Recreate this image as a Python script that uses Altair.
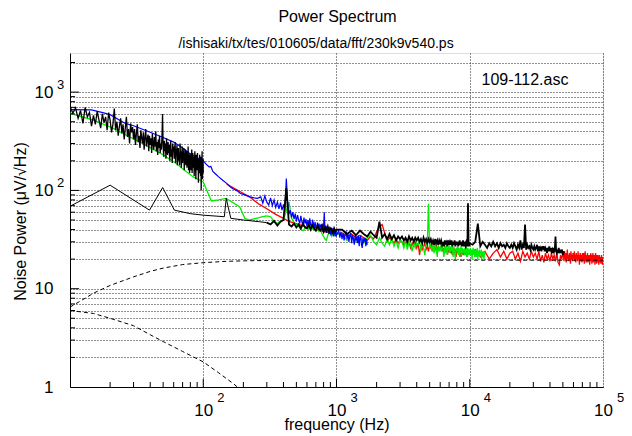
import altair as alt
import pandas as pd

FONT = "Liberation Sans"
W, H = 533, 334

X_DOMAIN = [10, 100000]
Y_DOMAIN = [1, 2500]

TITLE = "Power Spectrum"
SUBTITLE = "/ishisaki/tx/tes/010605/data/fft/230k9v540.ps"
FILE_LABEL = "109-112.asc"
X_TITLE = "frequency (Hz)"
Y_TITLE = "Noise Power (μV/√Hz)"

X_MAJOR = [100, 1000, 10000, 100000]
X_SUP = ["2", "3", "4", "5"]
X_MINOR = [20, 30, 40, 50, 60, 70, 80, 90, 200, 300, 400, 500, 600, 700, 800, 900,
           2000, 3000, 4000, 5000, 6000, 7000, 8000, 9000,
           20000, 30000, 40000, 50000, 60000, 70000, 80000, 90000]
Y_GRID = [2, 3, 4, 5, 6, 7, 8, 9, 10, 20, 30, 40, 50, 60, 70, 80, 90,
          100, 200, 300, 400, 500, 600, 700, 800, 900, 1000, 2000]
Y_MAJOR = [10, 100, 1000]
Y_SUPV = [100, 1000]
Y_SUP = ["2", "3"]
Y_MINOR = [v for v in Y_GRID if v not in Y_MAJOR]

# ---- black noisy spectrum 10-100 Hz (0.5 Hz bins) ----
blk_lo_f0, blk_lo_df = 10.0, 0.5
blk_lo_v = [
    720, 610, 690, 540, 650, 480, 700, 560, 620, 450,
    580, 470, 640, 520, 430, 600, 490, 560, 410, 620,
    520, 390, 470, 680, 410, 500, 360, 450, 540, 380,
    470, 330, 430, 560, 350, 420, 300, 480, 390, 440,
    330, 420, 290, 380, 470, 310, 360, 270, 410, 340,
    300, 390, 260, 350, 420, 280, 330, 370, 250, 360,
    290, 340, 240, 380, 300, 260, 350, 280, 400, 250,
    310, 230, 330, 270, 360, 240, 300, 260, 350, 600,
    280, 220, 320, 250, 300, 210, 340, 260, 230, 310,
    240, 290, 200, 270, 320, 220, 260, 190, 300, 250,
    280, 210, 250, 310, 190, 260, 230, 290, 180, 240,
    270, 200, 240, 180, 300, 220, 250, 170, 230, 280,
    190, 240, 210, 270, 160, 230, 200, 260, 180, 220,
    250, 170, 220, 190, 280, 160, 230, 200, 150, 240,
    180, 230, 160, 210, 260, 150, 200, 240, 170, 190,
    220, 140, 200, 250, 170, 190, 130, 230, 180, 210,
    160, 240, 170, 200, 120, 210, 180, 150, 230, 170,
    190, 140, 220, 100, 200, 160, 250, 130, 180, 210,
    150,
]

# ---- black smoothed spectrum (low part) ----
blk_thin_f = [10, 20, 39.5, 49.6, 60.7, 80, 100, 144, 148.7, 161, 200, 264, 300]
blk_thin_v = [69, 113, 63, 107, 63, 58, 56, 54, 83, 52, 50, 48, 47]

# ---- black high-frequency spectrum ----
blk2_a_f0, blk2_a_df = 300, 20
blk2_a_v = [47, 45, 49, 44, 48, 50, 105, 45, 43, 46, 42, 45, 41, 46, 42, 41, 45, 40,
            44, 41, 39, 44, 40, 39, 43, 38, 42, 39, 43, 38, 41, 40, 37, 41, 38, 40]
blk2_b_f0, blk2_b_df = 1100, 100
blk2_b_v = [
    40, 36, 39, 35, 39, 36, 34, 38, 35, 33,
    48, 33, 36, 32, 36, 32, 35, 31, 34, 32,
    34, 31, 33, 30, 34, 31, 33, 30, 33, 31,
    33, 30, 32, 29, 33, 30, 32, 29, 32, 30,
    32, 29, 31, 28, 32, 29, 31, 28, 31, 29,
    31, 28, 30, 27, 31, 29, 30, 27, 31, 28,
    30, 28, 31, 27, 30, 28, 31, 27, 30, 28,
    30, 27, 29, 31, 28, 30, 27, 29, 31, 27,
    30, 28, 27, 30, 31, 27, 74, 30, 27, 29,
]
blk2_c_f0, blk2_c_df = 10500, 500
blk2_c_v = [
    28, 30, 46, 27, 30, 28, 26, 29, 27, 30,
    27, 29, 26, 29, 27, 28, 26, 29, 27, 26,
    28, 26, 29, 27, 25, 28, 26, 31, 25, 28,
    26, 45, 25, 28, 26, 27, 25, 28, 26, 25,
    27, 25, 26, 28, 24, 27, 25, 26, 24, 27,
    25, 27, 24, 26, 25, 23, 26, 24, 27, 24,
    26, 24, 25, 23, 26, 24, 25, 34, 24, 23,
    25, 23, 26, 24, 23, 25, 23, 25, 24, 22,
    24, 23,
]

# ---- blue spectrum ----
blue_lo_f = [10, 14.5, 17.6, 20, 26, 30, 40, 50, 60, 70, 80, 90, 100, 105, 111, 114,
             118, 125, 130, 140, 150, 160, 167, 180, 190, 200, 210, 225, 240, 255]
blue_lo_v = [665, 660, 618, 590, 480, 455, 390, 345, 310, 270, 235, 215, 200, 185, 173, 176,
             156, 145, 138, 127, 118, 108, 104, 99, 93, 91, 89, 86, 84, 83]
blue_a_f0, blue_a_df = 270, 10
blue_a_v = [
    86, 74, 88, 76, 71, 84, 70, 80, 67, 76,
    65, 75, 63, 72, 61, 132, 76, 57, 63, 53,
    60, 51, 58, 48, 56, 50, 46, 55, 48, 44,
    53, 46, 51, 43, 50, 43, 52, 45, 42, 49,
    47, 41, 48, 42, 40, 47, 41, 46, 39, 45,
    43, 46, 39, 44, 60, 38, 44, 37, 43, 38,
    42, 36, 43, 37, 35, 42, 36, 41, 34, 40,
    39, 34, 40, 35,
]
blue_b_f0, blue_b_df = 1020, 20
blue_b_v = [
    37, 39, 33, 38, 32, 37, 31, 36, 38, 32,
    36, 30, 35, 37, 29, 35, 32, 28, 35, 31,
    34, 29, 35, 27, 33, 34, 28, 26, 33, 30,
    31, 33, 27, 32, 28,
]

# ---- red spectrum ----
red_lo_f = [150, 180, 222, 264, 300, 350, 400, 444, 500, 600, 700, 800, 900, 1000]
red_lo_v = [116, 101, 86, 72, 65, 57, 52, 48, 46, 42, 40, 38, 37, 36]
red_a_f0, red_a_df = 1100, 100
red_a_v = [
    37, 34, 36, 33, 35, 33, 31, 34, 32, 38,
    43, 45, 37, 30, 33, 31, 29, 32, 29, 31,
    30, 28, 31, 27, 30, 26, 29, 27, 30, 26,
    29, 22, 28, 25, 27, 29, 25, 27, 24, 28,
    26, 28, 24, 27, 25, 28, 23, 27, 25, 26,
    27, 24, 26, 23, 27, 25, 26, 22, 26, 24,
    25, 23, 26, 22, 25, 26, 23, 25, 21, 25,
    24, 26, 22, 25, 23, 21, 25, 23, 24, 22,
    25, 22, 24, 26, 21, 24, 25, 22, 24, 23,
]
red_b_f0, red_b_df = 11000, 1000
red_b_v = [
    25, 21, 24, 20, 23, 25, 21, 24, 20, 23,
    24, 20, 23, 19, 24, 21, 23, 20, 24, 21,
    23, 20, 24, 19, 22, 18.5, 23, 20, 22, 19,
    23, 20, 22, 19, 23, 18.5, 17.5, 22, 20, 23,
]
red_c_f0, red_c_df = 50500, 500
red_c_v = [
    22, 19, 24, 20, 23, 18.5, 21, 25, 20, 22,
    19, 23, 21, 18, 24, 20, 22, 19, 23, 20,
    21, 24, 19, 22, 18.5, 23, 20, 22, 19, 24,
    20, 22, 17.5, 21, 23, 19, 22, 20, 18.5, 23,
    21, 19, 23, 20, 18, 22, 24, 19, 21, 18.5,
    22, 20, 23, 18.5, 21, 19, 22, 20, 17.5, 22,
    20, 23, 19, 21, 18, 22, 20, 23, 18.5, 21,
    19, 22, 20, 17.5, 21, 23, 19, 20, 18, 22,
    20, 18.5, 22, 19, 21, 17.5, 20, 22, 18.5, 21,
    19, 21, 18, 20, 22, 18.5, 20, 17.5, 21, 19.5,
]

# ---- green spectrum ----
green_lo_f = [10, 15, 20.4, 35, 50, 62.6, 83.6, 100, 115, 130, 149, 188, 205, 222, 250, 280]
green_lo_v = [610, 520, 438, 300, 230, 188, 138, 122, 78, 80, 83, 68, 52, 50, 52, 54]
green_a_f0, green_a_df = 300, 20
green_a_v = [55, 54, 48, 46, 49, 50, 62, 76, 52, 47, 45, 43, 40, 39, 41, 42, 40, 43,
             41, 42, 42, 40, 38, 39, 36, 34, 32, 31, 35, 37, 36, 34, 37, 35, 36, 36]
green_b_f0, green_b_df = 1100, 100
green_b_v = [
    36, 31, 35, 30, 34, 29, 33, 35, 30, 28,
    33, 29, 27, 32, 28, 33, 27, 31, 26, 31,
    30, 26, 31, 25, 30, 28, 24, 30, 26, 29,
    28, 31, 24, 29, 26, 22, 29, 27, 73, 26,
    29, 24, 28, 23, 29, 26, 21, 28, 24, 27,
    24, 28, 25, 21, 27, 23, 28, 22, 26, 27,
    23, 27, 24, 28, 21, 26, 23, 20, 26, 24,
    27, 22, 26, 21, 25, 27, 22, 26, 23, 25,
    22, 26, 23, 27, 21, 25, 26, 22, 25, 23,
    26, 22, 25, 20, 24, 26, 22, 25, 21, 24,
    25, 21, 24, 26, 20, 24, 22, 25, 21, 24,
    23, 25, 20, 24, 21, 24, 22, 20, 24, 22,
]

# ---- dashed model curves ----
dash_up_f = [10, 12, 15, 20, 30, 40, 50, 70, 100, 150, 200, 300, 1000, 100000]
dash_up_v = [6.5, 7.5, 9.0, 10.8, 13.2, 15.0, 16.2, 17.6, 18.4, 19.0, 19.2, 19.4, 19.5, 19.5]
dash_dn_f = [10, 15, 20, 30, 40, 50, 70, 100, 130, 170, 180]
dash_dn_v = [6.0, 5.6, 5.0, 4.2, 3.4, 2.9, 2.3, 1.8, 1.4, 1.07, 1.0]


def bins(f0, df, vals):
    return [f0 + df * i for i in range(len(vals))]


def frame(f, v):
    return pd.DataFrame({"f": f, "v": v})


Y_LABEL_EXPR = ("datum.value == 1000 || datum.value == 100 || datum.value == 10 ? '10' : "
                "(datum.value == 1 ? '1' : '')")

x_enc = alt.X(
    "f:Q",
    scale=alt.Scale(type="log", domain=X_DOMAIN, nice=False),
    axis=alt.Axis(
        values=X_MAJOR, labelExpr="'10'", grid=True, gridDash=[1, 2], gridColor="#222",
        gridWidth=1, tickSize=0, labelFontSize=17, labelPadding=15, labelFlush=False,
        labelOverlap=False, labelColor="black", labelFont=FONT,
        domainColor="black", title=X_TITLE, titleFontSize=16, titleFontWeight="normal",
        titleFont=FONT, titleColor="black", titleBaseline="alphabetic", titleY=42, titleX=W / 2,
    ),
)
y_enc = alt.Y(
    "v:Q",
    scale=alt.Scale(type="log", domain=Y_DOMAIN, nice=False),
    axis=alt.Axis(
        values=Y_GRID + [1], labelExpr=Y_LABEL_EXPR, grid=True, gridDash=[1, 2],
        gridColor="#222", gridWidth=1, tickSize=0, labelFontSize=17, labelPadding=17,
        labelOverlap=False, labelFlush=False, labelColor="black", labelFont=FONT,
        domainColor="black", title=Y_TITLE, titleFontSize=16, titleFontWeight="normal",
        titleFont=FONT, titleColor="black", titleBaseline="alphabetic", titleAngle=270,
        titleX=-45, titleY=168, titleAlign="center",
    ),
)


def line(df, color, width=1.0, dash=None):
    kw = dict(color=color, strokeWidth=width, clip=True)
    if dash:
        kw["strokeDash"] = dash
    return alt.Chart(df).mark_line(**kw).encode(x=x_enc, y=y_enc)


red_df = frame(red_lo_f + bins(red_a_f0, red_a_df, red_a_v) + bins(red_b_f0, red_b_df, red_b_v)
               + bins(red_c_f0, red_c_df, red_c_v),
               red_lo_v + red_a_v + red_b_v + red_c_v)
green_df = frame(green_lo_f + bins(green_a_f0, green_a_df, green_a_v) + bins(green_b_f0, green_b_df, green_b_v),
                 green_lo_v + green_a_v + green_b_v)
blue_df = frame(blue_lo_f + bins(blue_a_f0, blue_a_df, blue_a_v) + bins(blue_b_f0, blue_b_df, blue_b_v),
                blue_lo_v + blue_a_v + blue_b_v)
blk_hi_df = frame(bins(blk2_a_f0, blk2_a_df, blk2_a_v) + bins(blk2_b_f0, blk2_b_df, blk2_b_v)
                  + bins(blk2_c_f0, blk2_c_df, blk2_c_v),
                  blk2_a_v + blk2_b_v + blk2_c_v)
blk_thin_df = frame(blk_thin_f, blk_thin_v)
blk_lo_df = frame(bins(blk_lo_f0, blk_lo_df, blk_lo_v), blk_lo_v)

layers = [
    line(red_df, "#ff0000", 1.3),
    line(green_df, "#00ee00", 1.3),
    line(blue_df, "#0000ff", 1.2),
    line(blk_hi_df, "#000000", 1.8),
    line(blk_thin_df, "#000000", 1.0),
    line(blk_lo_df, "#000000", 1.3),
    line(frame(dash_up_f, dash_up_v), "#000000", 1.0, [4, 3]),
    line(frame(dash_dn_f, dash_dn_v), "#000000", 1.0, [4, 3]),
]

# inward tick marks
xt_major = pd.DataFrame({"f": X_MAJOR[:-1]})
xt_minor = pd.DataFrame({"f": X_MINOR})
yt_major = pd.DataFrame({"v": Y_MAJOR})
yt_minor = pd.DataFrame({"v": Y_MINOR})
layers += [
    alt.Chart(xt_major).mark_rule(color="black").encode(x=x_enc, y=alt.value(H), y2=alt.value(H - 8)),
    alt.Chart(xt_minor).mark_rule(color="black").encode(x=x_enc, y=alt.value(H), y2=alt.value(H - 5)),
    alt.Chart(yt_major).mark_rule(color="black").encode(y=y_enc, x=alt.value(0), x2=alt.value(9)),
    alt.Chart(yt_minor).mark_rule(color="black").encode(y=y_enc, x=alt.value(0), x2=alt.value(5)),
]

# exponents of tick labels
xsup_df = pd.DataFrame({"f": X_MAJOR, "t": X_SUP})
ysup_df = pd.DataFrame({"v": Y_SUPV, "t": Y_SUP})
layers += [
    alt.Chart(xsup_df).mark_text(align="left", baseline="alphabetic", dx=14, fontSize=13,
                                 font=FONT, color="black").encode(
        x=x_enc, y=alt.value(H + 15), text="t:N"),
    alt.Chart(ysup_df).mark_text(align="left", baseline="alphabetic", dy=-3, fontSize=13,
                                 font=FONT, color="black").encode(
        y=y_enc, x=alt.value(-13), text="t:N"),
]

# title and annotations
layers += [
    alt.Chart(pd.DataFrame({"t": [TITLE]})).mark_text(
        align="center", baseline="alphabetic", fontSize=16, font=FONT, color="black").encode(
        x=alt.value(267.5), y=alt.value(-31), text="t:N"),
    alt.Chart(pd.DataFrame({"t": [SUBTITLE]})).mark_text(
        align="center", baseline="alphabetic", fontSize=14, font=FONT, color="black").encode(
        x=alt.value(246), y=alt.value(-5), text="t:N"),
    alt.Chart(pd.DataFrame({"t": [FILE_LABEL]})).mark_text(
        align="left", baseline="alphabetic", fontSize=16, font=FONT, color="black").encode(
        x=alt.value(411.5), y=alt.value(32), text="t:N"),
]

chart = alt.layer(*layers).properties(
    width=W, height=H,
    autosize=alt.AutoSizeParams(type="none"),
    padding={"left": 70, "top": 53, "right": 29, "bottom": 49},
).configure_view(stroke="black", strokeWidth=1).configure(background="white")

chart.save("out.html", embed_options={"renderer": "svg", "actions": False})
